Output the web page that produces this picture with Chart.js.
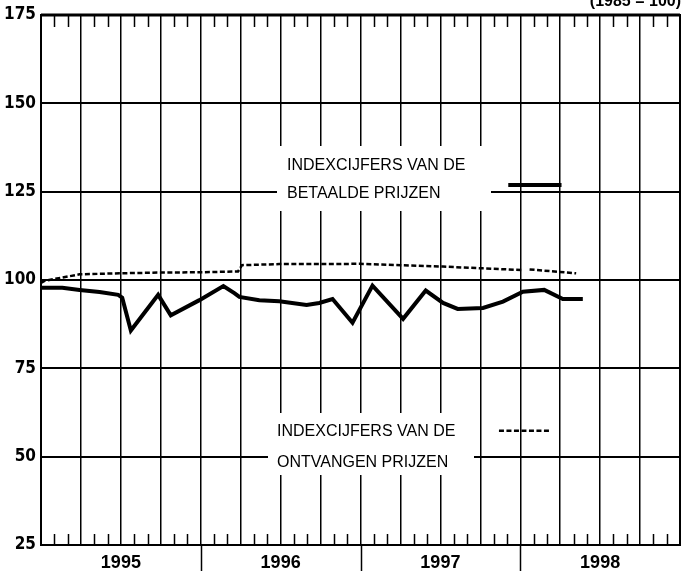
<!DOCTYPE html>
<html>
<head>
<meta charset="utf-8">
<script src="https://cdn.jsdelivr.net/npm/chart.js@4.4.1/dist/chart.umd.min.js"></script>
<style>
    html, body { margin: 0; padding: 0; background: #fff; }
    #wrap { width: 682px; height: 571px; position: relative; }
</style>
</head>
<body>
<div id="wrap"><canvas id="indexChart"></canvas></div>
<script>
// maanden vanaf jan 1995 (0 = begin 1995, 48 = begin 1999)
const years = ['1995', '1996', '1997', '1998'];
const yTicks = [25, 50, 75, 100, 125, 150, 175];

// indexcijfers van de betaalde prijzen (doorgetrokken lijn)
const paidMonths = [0, 1.6, 2.9, 4.4, 5.8, 6.1, 6.75, 8.8, 9.75, 11.9, 13.7, 14.55, 14.9, 16.4, 17.9, 19.95, 20.9, 21.9, 23.4, 24.9, 27.2, 28.9, 30.2, 31.3, 33.2, 34.7, 36.2, 37.8, 39.2, 40.7];
const paidValues = [97.8, 97.8, 97.2, 96.6, 95.8, 95.0, 85.7, 95.8, 90.0, 94.3, 98.3, 96.2, 95.2, 94.3, 94.0, 92.9, 93.5, 94.6, 87.9, 98.4, 89.0, 97.0, 93.5, 91.8, 92.1, 93.9, 96.7, 97.2, 94.6, 94.6];

// indexcijfers van de ontvangen prijzen (gestippelde lijn)
const receivedMonths = [0, 0.3, 1.9, 2.9, 5.9, 8.9, 11.9, 14.8, 15.1, 17.9, 21.9, 23.9, 27.1, 30.2, 33.2, 36.2, 36.45, 36.7, 40.2];
const receivedValues = [99.2, 99.8, 100.9, 101.6, 101.9, 102.1, 102.2, 102.4, 104.2, 104.5, 104.5, 104.6, 104.2, 103.8, 103.3, 102.8, null, 103.0, 101.9];

const toPoints = (xs, ys) => xs.map((m, i) => ({ x: m, y: ys[i] }));

const frameAndLabels = {
    id: 'frameAndLabels',
    beforeDatasetsDraw(chart) {
        const ctx = chart.ctx;
        const area = chart.chartArea;
        const xs = chart.scales.x;
        const ys = chart.scales.y;
        ctx.save();
        ctx.strokeStyle = '#000';

        // maandstreepjes boven en onder
        ctx.lineWidth = 1.5;
        for (let m = 1; m < 48; m++) {
            if (m % 3 === 0) continue;
            const px = Math.round(xs.getPixelForValue(m)) + 0.5;
            ctx.beginPath();
            ctx.moveTo(px, area.top);
            ctx.lineTo(px, area.top + 12);
            ctx.moveTo(px, area.bottom);
            ctx.lineTo(px, area.bottom - 11);
            ctx.stroke();
        }

        // jaarscheiding onder de as
        for (let m = 12; m < 48; m += 12) {
            const px = Math.round(xs.getPixelForValue(m)) + 0.5;
            ctx.beginPath();
            ctx.moveTo(px, area.bottom);
            ctx.lineTo(px, chart.height);
            ctx.stroke();
        }

        // kader
        ctx.lineWidth = 2;
        ctx.strokeRect(area.left, area.top, area.right - area.left, area.bottom - area.top);
        ctx.lineWidth = 3;
        ctx.beginPath();
        ctx.moveTo(area.left, area.top);
        ctx.lineTo(area.right, area.top);
        ctx.stroke();

        // witte vlakken voor de teksten
        ctx.fillStyle = '#fff';
        ctx.fillRect(277, 146, 214, 65);
        ctx.fillRect(268, 413, 206, 62);

        ctx.fillStyle = '#000';
        ctx.font = '16px "Liberation Sans", Arial, sans-serif';
        ctx.textAlign = 'left';
        ctx.textBaseline = 'middle';
        ctx.fillText('INDEXCIJFERS VAN DE', 287, ys.getPixelForValue(132.3));
        ctx.fillText('BETAALDE PRIJZEN', 287, ys.getPixelForValue(124.4));
        ctx.fillText('INDEXCIJFERS VAN DE', 277, ys.getPixelForValue(57.1));
        ctx.fillText('ONTVANGEN PRIJZEN', 277, ys.getPixelForValue(48.3));

        // voorbeeldlijnen
        ctx.lineWidth = 4;
        ctx.beginPath();
        ctx.moveTo(xs.getPixelForValue(35.1), ys.getPixelForValue(126.9));
        ctx.lineTo(xs.getPixelForValue(39.1), ys.getPixelForValue(126.9));
        ctx.stroke();
        ctx.lineWidth = 2.5;
        ctx.setLineDash([5, 2.5]);
        ctx.beginPath();
        ctx.moveTo(xs.getPixelForValue(34.4), ys.getPixelForValue(57.3));
        ctx.lineTo(xs.getPixelForValue(38.2), ys.getPixelForValue(57.3));
        ctx.stroke();
        ctx.setLineDash([]);

        // basisjaar, bovenaan afgesneden
        ctx.font = 'bold 16px "Liberation Sans", Arial, sans-serif';
        ctx.textAlign = 'right';
        ctx.textBaseline = 'alphabetic';
        ctx.fillText('(1985 = 100)', 681, 6);
        ctx.restore();
    }
};

const ctx = document.getElementById('indexChart').getContext('2d');
const indexChart = new Chart(ctx, {
    type: 'line',
    data: {
        datasets: [
            {
                label: 'Indexcijfers van de betaalde prijzen',
                data: toPoints(paidMonths, paidValues),
                borderColor: '#000',
                borderWidth: 4,
                pointRadius: 0,
                tension: 0,
                fill: false
            },
            {
                label: 'Indexcijfers van de ontvangen prijzen',
                data: toPoints(receivedMonths, receivedValues),
                borderColor: '#000',
                borderWidth: 2.5,
                borderDash: [5, 2.5],
                pointRadius: 0,
                tension: 0,
                spanGaps: false,
                fill: false
            }
        ]
    },
    options: {
        responsive: true,
        maintainAspectRatio: false,
        animation: false,
        layout: { padding: { top: 15, right: 2, left: 0, bottom: 0 } },
        plugins: {
            legend: { display: false },
            tooltip: { enabled: false }
        },
        scales: {
            x: {
                type: 'linear',
                min: 0,
                max: 48,
                afterFit: function(scale) {
                    scale.height = 26;
                    scale.paddingLeft = 0;
                    scale.paddingRight = 0;
                },
                afterBuildTicks: function(scale) {
                    const t = [];
                    for (let m = 0; m <= 48; m += 3) t.push({ value: m });
                    scale.ticks = t;
                },
                grid: { color: '#000', lineWidth: 1.5, drawTicks: false },
                border: { display: false },
                ticks: {
                    autoSkip: false,
                    maxRotation: 0,
                    padding: 7,
                    color: '#000',
                    font: { family: '"Liberation Sans", Arial, sans-serif', size: 18, weight: 'bold' },
                    callback: function(value) {
                        return value % 12 === 6 ? years[(value - 6) / 12] : '';
                    }
                }
            },
            y: {
                min: 25,
                max: 175,
                afterFit: function(scale) {
                    scale.width = 41;
                    scale.paddingTop = 0;
                    scale.paddingBottom = 0;
                },
                afterBuildTicks: function(scale) {
                    scale.ticks = yTicks.map(v => ({ value: v }));
                },
                grid: { color: '#000', lineWidth: 2, drawTicks: false },
                border: { display: false },
                ticks: {
                    padding: 5,
                    color: '#000',
                    font: { family: '"Liberation Sans Narrow", "DejaVu Sans Condensed", Arial, sans-serif', size: 17, weight: 'bold' }
                }
            }
        }
    },
    plugins: [frameAndLabels]
});
</script>
</body>
</html>
